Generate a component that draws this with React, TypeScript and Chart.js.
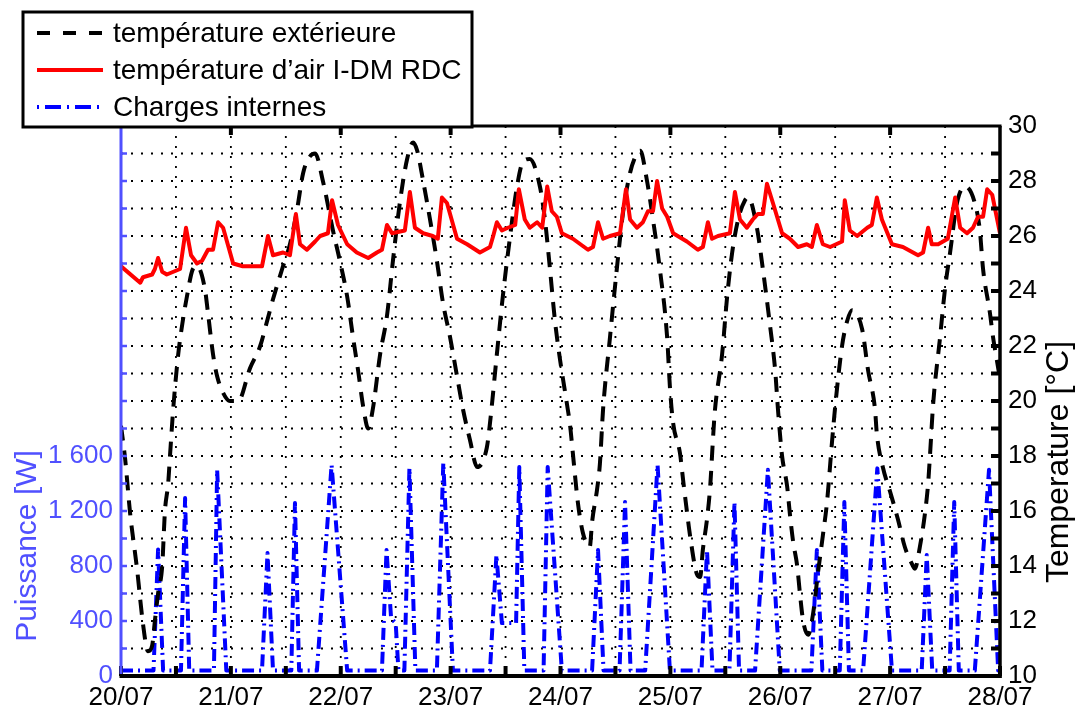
import React, { useEffect, useRef } from 'react';
import { Chart, registerables } from 'chart.js';

Chart.register(...registerables);

// ---------- data ----------
const dayLabels = ['20/07', '21/07', '22/07', '23/07', '24/07', '25/07', '26/07', '27/07', '28/07'];
const tempTicks = [10, 12, 14, 16, 18, 20, 22, 24, 26, 28, 30];
const powerTicks = [0, 400, 800, 1200, 1600];
const powerTickLabels = ['0', '400', '800', '1 200', '1 600'];
const legendLabels = ['température extérieure', 'température d\u2019air I-DM RDC', 'Charges internes'];
const axisTitles = ['Puissance [W]', 'Temperature [°C]'];

// outdoor temperature (hours since 20/07 00:00, °C)
const extHours = [0, 0.9, 2.0, 3.5, 4.8, 5.9, 6.8, 7.4, 8.1, 9.0, 9.6, 10.3, 10.7, 11.4, 12.5, 13.3, 14.4, 15.7, 16.6, 18.3,
  19.0, 20.1, 21.0, 22.3, 23.8, 25.6, 28.2, 30.4, 31.9, 33.2, 35.2, 36.9, 38.4, 39.8, 41.3, 42.4, 44.1, 46.3, 47.8, 49.4,
  50.7, 51.8, 52.9, 54.0, 55.0, 56.6, 58.1, 59.4, 60.9, 62.5, 63.8, 64.7, 66.0, 67.5, 69.0, 70.3, 71.9, 73.4, 74.7, 76.2,
  77.8, 79.9, 80.6, 82.1, 83.4, 85.0, 86.5, 87.8, 89.3, 91.5, 92.6, 93.7, 94.8, 95.9, 97.4, 98.1, 98.7, 99.8, 100.9, 102.4,
  102.9, 104.0, 104.6, 105.3, 106.8, 108.3, 109.7, 111.2, 112.7, 113.4, 114.9, 116.2, 117.7, 119.3, 119.9, 120.6, 122.1, 122.8, 123.6, 124.3,
  125.8, 126.5, 127.1, 128.0, 128.7, 129.3, 129.7, 131.3, 132.4, 133.5, 134.8, 136.3, 137.0, 138.9, 140.2, 141.8, 142.9, 143.5, 144.4, 145.5,
  146.1, 146.8, 147.7, 148.3, 149.0, 150.1, 151.2, 152.2, 153.3, 154.2, 155.3, 156.0, 157.5, 158.6, 159.7, 161.9, 163.2, 164.7, 165.1, 166.4,
  168.0, 169.7, 171.2, 173.0, 173.4, 174.5, 175.6, 176.3, 176.7, 177.4, 178.9, 180.0, 181.1, 182.6, 184.4, 186.5, 187.6, 188.3, 189.8, 190.5,
  191.3, 192.0];
const extTemp = [19.1, 17.9, 15.9, 13.9, 11.9, 10.9, 11.1, 12.0, 13.0, 14.0, 16.0, 17.0, 18.0, 19.7, 21.7, 22.7, 23.8, 24.8, 24.9, 24.1,
  23.2, 21.7, 20.9, 20.3, 20.0, 20.0, 21.2, 22.0, 22.9, 23.7, 24.8, 25.7, 26.9, 28.3, 28.9, 29.0, 28.0, 26.2, 25.1, 23.8,
  22.3, 21.1, 19.8, 19.0, 19.7, 21.7, 23.1, 25.1, 27.2, 28.8, 29.4, 29.1, 28.0, 26.6, 25.1, 23.6, 22.3, 20.9, 19.7, 18.6,
  17.6, 18.3, 19.2, 21.7, 23.8, 26.0, 27.8, 28.7, 28.8, 27.8, 26.6, 24.8, 22.9, 21.5, 19.9, 19.1, 18.1, 16.3, 15.2, 14.7,
  15.6, 16.8, 17.7, 19.7, 22.3, 24.8, 26.9, 28.3, 29.0, 29.1, 28.0, 26.6, 24.8, 22.3, 20.5, 19.2, 18.1, 17.1, 16.0, 15.1,
  13.7, 13.6, 14.6, 15.7, 16.9, 18.6, 19.6, 21.7, 23.8, 25.4, 26.6, 27.3, 27.4, 26.3, 24.8, 22.7, 21.1, 19.7, 18.0, 16.9,
  15.9, 14.9, 14.0, 13.0, 12.0, 11.5, 12.3, 13.7, 15.1, 16.3, 18.5, 19.8, 22.0, 22.9, 23.3, 22.6, 21.1, 19.7, 18.8, 17.6,
  16.7, 15.7, 14.7, 14.0, 13.9, 14.7, 15.9, 17.0, 18.0, 19.9, 22.3, 24.1, 25.4, 27.2, 27.8, 27.2, 26.2, 24.8, 23.2, 22.3,
  21.5, 20.8];

// indoor air temperature (hours, °C)
const airHours = [0, 4.2, 4.8, 6.8, 7.4, 8.1, 9.0, 10.0, 12.9, 14.2, 15.3, 16.6, 17.7, 19.0, 20.1, 21.2, 22.3, 24.5, 26.6, 30.8,
  32.1, 33.2, 35.4, 36.9, 38.2, 39.1, 40.6, 42.4, 43.5, 45.2, 46.1, 47.4, 49.4, 51.5, 54.0, 55.9, 57.0, 58.1, 59.2, 62.0,
  63.1, 64.2, 66.0, 68.1, 69.2, 70.1, 71.2, 73.4, 75.6, 78.4, 80.6, 81.3, 82.1, 83.2, 84.5, 86.1, 86.9, 88.2, 89.3, 90.9,
  92.0, 93.1, 94.1, 95.2, 96.3, 98.7, 102.0, 103.1, 104.2, 105.3, 106.8, 109.0, 110.3, 111.2, 112.7, 114.0, 115.1, 116.2, 117.1, 118.2,
  119.3, 120.6, 123.6, 126.0, 127.1, 128.2, 129.1, 130.4, 133.0, 134.1, 135.2, 136.7, 138.0, 139.1, 140.2, 141.1, 142.4, 144.4, 146.1, 147.9,
  149.8, 150.9, 152.0, 153.3, 154.9, 157.5, 158.1, 159.2, 160.8, 163.0, 164.0, 165.1, 166.2, 168.4, 170.8, 174.1, 175.2, 176.3, 177.1, 178.5,
  180.6, 182.2, 183.3, 184.8, 186.1, 187.2, 188.3, 189.2, 190.3, 192.0];
const airTemp = [24.9, 24.3, 24.5, 24.6, 24.8, 25.2, 24.7, 24.6, 24.8, 26.3, 25.3, 25.0, 25.1, 25.5, 25.5, 26.5, 26.3, 25.0, 24.9, 24.9,
  26.0, 25.3, 25.4, 25.3, 26.8, 25.7, 25.5, 25.8, 26.0, 26.1, 27.3, 26.4, 25.7, 25.4, 25.2, 25.4, 25.5, 26.4, 26.1, 26.2,
  27.6, 26.3, 26.1, 26.0, 25.9, 27.4, 27.2, 25.9, 25.7, 25.4, 25.6, 26.0, 26.5, 26.2, 26.3, 26.4, 27.7, 26.6, 26.3, 26.5,
  26.3, 27.8, 26.9, 26.7, 26.1, 25.9, 25.5, 25.6, 26.5, 25.9, 26.0, 26.1, 27.7, 26.6, 26.3, 26.5, 26.9, 26.9, 28.0, 27.0,
  26.7, 26.1, 25.8, 25.5, 25.6, 26.5, 25.9, 26.0, 26.1, 27.6, 26.6, 26.3, 26.6, 26.8, 26.8, 27.9, 27.2, 26.1, 25.9, 25.6,
  25.7, 25.6, 26.4, 25.7, 25.6, 25.8, 27.3, 26.2, 26.0, 26.3, 26.4, 27.4, 26.6, 25.7, 25.6, 25.3, 25.4, 26.3, 25.7, 25.7,
  25.9, 27.4, 26.3, 26.1, 26.3, 26.7, 26.7, 27.7, 27.5, 26.1];

// internal loads (hours, W)
const loadHours = [0, 7.1, 8.1, 9.2, 13.1, 14.0, 14.9, 20.3, 21.0, 23.0,
  30.8, 32.0, 33.2, 37.2, 38.0, 38.9, 42.8, 46.0, 49.4,
  57.0, 58.0, 59.0, 60.0, 60.6, 61.9, 63.0, 64.3, 69.0, 70.4, 72.5,
  80.6, 82.0, 83.2, 86.3, 87.0, 88.1, 92.3, 93.2, 96.3,
  102.9, 104.2, 105.4, 108.9, 110.1, 111.3, 114.5, 117.2, 119.9,
  126.8, 128.0, 129.2, 132.9, 134.0, 135.0, 138.5, 141.3, 143.9,
  150.8, 152.0, 153.2, 157.0, 158.0, 159.0, 162.1, 165.2, 168.4,
  174.9, 176.0, 177.2, 181.0, 182.0, 183.0, 186.5, 189.6, 191.6, 192.0];
const loadWatts = [40, 40, 920, 40, 40, 1295, 40, 40, 1500, 40,
  40, 894, 40, 40, 1258, 40, 40, 1535, 40,
  40, 916, 420, 385, 40, 40, 1513, 40, 40, 1550, 40,
  40, 880, 385, 385, 1520, 40, 40, 1520, 40,
  40, 916, 40, 40, 1265, 40, 40, 1535, 40,
  40, 916, 40, 40, 1265, 40, 40, 1500, 40,
  40, 916, 40, 40, 1265, 40, 40, 1510, 40,
  40, 880, 40, 40, 1265, 40, 40, 1500, 40, 40];

// ---------- styling ----------
const FONT = '"Liberation Sans", Arial, Helvetica, sans-serif';
const AXIS_BLUE = '#5050ff';
const DASH_EXT = [15, 10];
const DASH_LOAD = [12, 5, 2, 5];

const toPoints = (xs: number[], ys: number[]) => xs.map((x, i) => ({ x, y: ys[i] }));

const line = (ctx: CanvasRenderingContext2D, x1: number, y1: number, x2: number, y2: number) => {
  ctx.beginPath();
  ctx.moveTo(x1, y1);
  ctx.lineTo(x2, y2);
  ctx.stroke();
};

const matlabPlugin = {
  id: 'matlabLook',
  beforeDraw(chart: any) {
    const { ctx, width, height } = chart;
    ctx.save();
    ctx.fillStyle = '#ffffff';
    ctx.fillRect(0, 0, width, height);
    ctx.restore();
  },
  beforeDatasetsDraw(chart: any) {
    const { ctx, chartArea: a, scales } = chart;
    ctx.save();
    ctx.strokeStyle = '#000000';
    ctx.lineWidth = 1.8;
    ctx.setLineDash([2, 8]);
    for (let t = 11; t < 30; t++) {
      const y = scales.yT.getPixelForValue(t);
      line(ctx, a.left, y, a.right, y);
    }
    for (let h = 12; h < 192; h += 12) {
      const x = scales.x.getPixelForValue(h);
      line(ctx, x, a.top, x, a.bottom);
    }
    ctx.restore();
  },
  afterDatasetsDraw(chart: any) {
    const { ctx, chartArea: a, scales } = chart;
    ctx.save();
    ctx.setLineDash([]);
    ctx.lineCap = 'butt';
    // ticks
    ctx.strokeStyle = '#000000';
    ctx.lineWidth = 4;
    for (let h = 0; h <= 192; h += 12) {
      const x = scales.x.getPixelForValue(h);
      line(ctx, x, a.bottom, x, a.bottom - 10);
    }
    for (let h = 24; h < 192; h += 24) {
      const x = scales.x.getPixelForValue(h);
      line(ctx, x, a.top, x, a.top + 9);
    }
    for (let t = 11; t < 30; t++) {
      const y = scales.yT.getPixelForValue(t);
      line(ctx, a.right, y, a.right - 9, y);
    }
    ctx.strokeStyle = AXIS_BLUE;
    ctx.lineWidth = 2.5;
    for (let w = 200; w < 4000; w += 200) {
      const y = scales.yW.getPixelForValue(w);
      line(ctx, a.left, y, a.left + 6, y);
    }
    // frame
    ctx.strokeStyle = '#000000';
    ctx.lineWidth = 3;
    line(ctx, a.left, a.top, a.right + 1.5, a.top);
    ctx.lineWidth = 3.5;
    line(ctx, a.right, a.top, a.right, a.bottom + 2);
    ctx.lineWidth = 4;
    line(ctx, a.left - 1.5, a.bottom, a.right + 1.5, a.bottom);
    ctx.strokeStyle = AXIS_BLUE;
    ctx.lineWidth = 3;
    line(ctx, a.left, a.top, a.left, a.bottom - 2);

    // axis titles
    ctx.textAlign = 'center';
    ctx.textBaseline = 'middle';
    ctx.save();
    ctx.font = `30px ${FONT}`;
    ctx.translate(28, 546);
    ctx.rotate(-Math.PI / 2);
    ctx.fillStyle = AXIS_BLUE;
    ctx.fillText(axisTitles[0], 0, 0);
    ctx.restore();
    ctx.save();
    ctx.font = `32px ${FONT}`;
    ctx.translate(1059, 462);
    ctx.rotate(-Math.PI / 2);
    ctx.fillStyle = '#000000';
    ctx.fillText(axisTitles[1], 0, 0);
    ctx.restore();

    // legend
    const lx = 23, ly = 12, lw = 449, lh = 115;
    ctx.fillStyle = '#ffffff';
    ctx.fillRect(lx, ly, lw, lh);
    ctx.strokeStyle = '#000000';
    ctx.lineWidth = 3;
    ctx.strokeRect(lx, ly, lw, lh);
    const rows = [33, 70, 107];
    const samples = [
      { color: '#000000', width: 4, dash: [13, 13], offset: 0 },
      { color: '#ff0000', width: 4, dash: [], offset: 0 },
      { color: '#0000ff', width: 4, dash: [16, 6, 2, 6], offset: 22 },
    ];
    ctx.font = `28px ${FONT}`;
    ctx.textAlign = 'left';
    ctx.textBaseline = 'middle';
    rows.forEach((y, i) => {
      const s = samples[i];
      ctx.strokeStyle = s.color;
      ctx.lineWidth = s.width;
      ctx.setLineDash(s.dash);
      ctx.lineDashOffset = s.offset;
      line(ctx, 37, y, 103, y);
      ctx.setLineDash([]);
      ctx.fillStyle = '#000000';
      ctx.fillText(legendLabels[i], 113, y + 1);
    });
    ctx.restore();
  },
};

export default function App() {
  const ref = useRef<HTMLCanvasElement>(null);
  useEffect(() => {
    document.body.style.margin = '0';
    const chart = new Chart(ref.current as HTMLCanvasElement, {
      type: 'line',
      data: {
        datasets: [
          {
            label: legendLabels[0],
            data: toPoints(extHours, extTemp),
            yAxisID: 'yT',
            xAxisID: 'x',
            borderColor: '#000000',
            borderWidth: 4,
            borderDash: DASH_EXT,
            cubicInterpolationMode: 'monotone',
            pointRadius: 0,
            fill: false,
            order: 1,
          },
          {
            label: legendLabels[1],
            data: toPoints(airHours, airTemp),
            yAxisID: 'yT',
            xAxisID: 'x',
            borderColor: '#ff0000',
            borderWidth: 4,
            borderJoinStyle: 'round',
            tension: 0,
            pointRadius: 0,
            fill: false,
            order: 0,
          },
          {
            label: legendLabels[2],
            data: toPoints(loadHours, loadWatts),
            yAxisID: 'yW',
            xAxisID: 'x',
            borderColor: '#0000ff',
            borderWidth: 4,
            borderDash: DASH_LOAD,
            borderJoinStyle: 'round',
            tension: 0,
            pointRadius: 0,
            fill: false,
            order: 2,
          },
        ],
      } as any,
      options: {
        responsive: false,
        animation: false,
        devicePixelRatio: 1,
        layout: { padding: { top: 126, left: 0, right: 0, bottom: 0 } },
        plugins: { legend: { display: false }, tooltip: { enabled: false } },
        scales: {
          x: {
            type: 'linear',
            position: 'bottom',
            min: 0,
            max: 192,
            grid: { display: false, drawTicks: false },
            border: { display: false },
            afterBuildTicks: (s: any) => { s.ticks = dayLabels.map((_, i) => ({ value: i * 24 })); },
            afterFit: (s: any) => { s.height = 39; },
            ticks: {
              autoSkip: false,
              maxRotation: 0,
              padding: 6,
              color: '#000000',
              font: { family: FONT, size: 26 },
              callback: (v: any) => dayLabels[Math.round(Number(v) / 24)] ?? '',
            },
          },
          yW: {
            type: 'linear',
            position: 'left',
            min: 0,
            max: 4000,
            grid: { display: false, drawTicks: false },
            border: { display: false },
            afterBuildTicks: (s: any) => { s.ticks = powerTicks.map((v) => ({ value: v })); },
            afterFit: (s: any) => { s.width = 121; },
            ticks: {
              autoSkip: false,
              padding: 8,
              color: AXIS_BLUE,
              font: { family: FONT, size: 26 },
              callback: (v: any) => powerTickLabels[powerTicks.indexOf(Number(v))] ?? '',
            },
          },
          yT: {
            type: 'linear',
            position: 'right',
            min: 10,
            max: 30,
            grid: { display: false, drawTicks: false },
            border: { display: false },
            afterBuildTicks: (s: any) => { s.ticks = tempTicks.map((v) => ({ value: v })); },
            afterFit: (s: any) => { s.width = 78; },
            ticks: {
              autoSkip: false,
              padding: 8,
              color: '#000000',
              font: { family: FONT, size: 26 },
              callback: (v: any) => String(v),
            },
          },
        },
      } as any,
      plugins: [matlabPlugin],
    });
    return () => chart.destroy();
  }, []);
  return (
    <div style={{ position: 'absolute', left: 0, top: 0, width: 1078, height: 715 }}>
      <canvas ref={ref} width={1078} height={715} style={{ display: 'block', width: 1078, height: 715 }} />
    </div>
  );
}
